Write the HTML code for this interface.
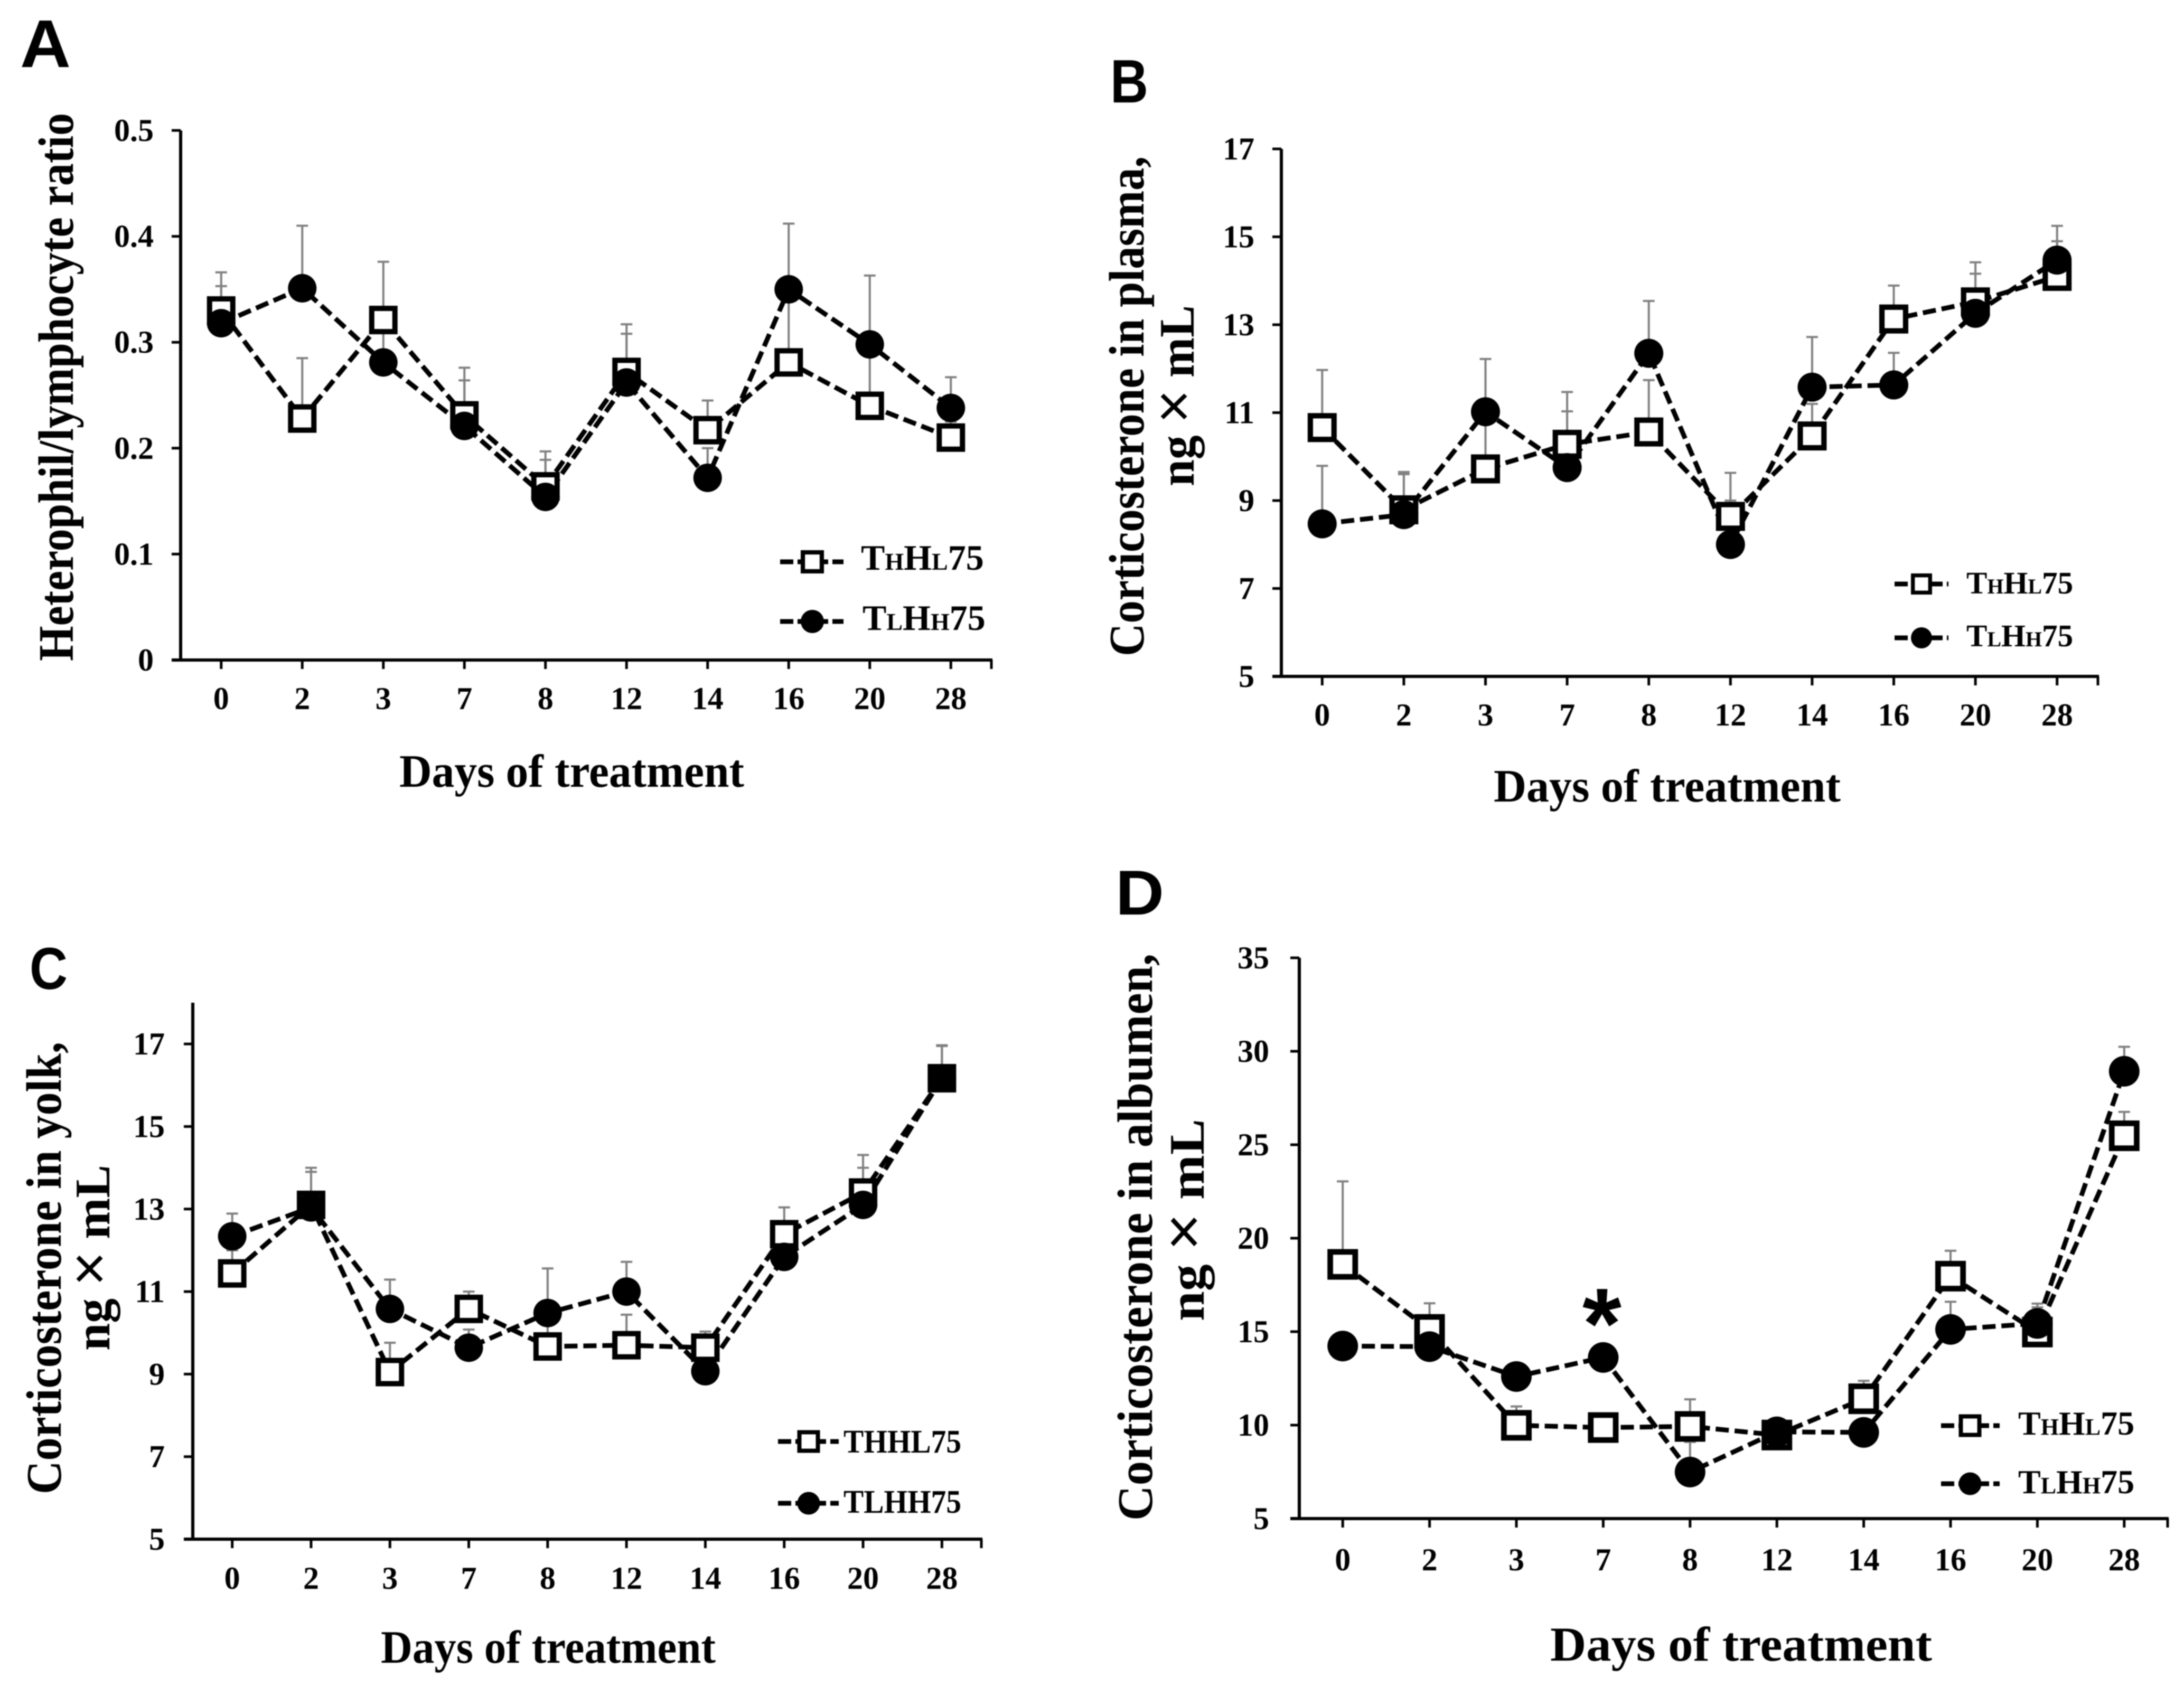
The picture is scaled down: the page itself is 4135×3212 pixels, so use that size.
<!DOCTYPE html>
<html lang="en">
<head>
<meta charset="utf-8">
<title>Corticosterone and heterophil/lymphocyte ratio over days of treatment</title>
<style>
html,body{margin:0;padding:0;background:#fff;}
#figure{display:block;width:4135px;height:3212px;filter:blur(1.1px);}
text{fill:#000;font-family:"Liberation Serif",serif;font-weight:bold;}
.letter{font-family:"Liberation Sans",sans-serif;}
.times{font-family:"Liberation Sans",sans-serif;font-weight:normal;font-size:112px;}
</style>
</head>
<body>
<svg id="figure" xmlns="http://www.w3.org/2000/svg" width="4135" height="3212" viewBox="0 0 4135 3212">
  <rect x="0" y="0" width="4135" height="3212" fill="#fff"/>

  <text class="letter" x="38" y="127" font-size="128" textLength="96" lengthAdjust="spacingAndGlyphs">A</text>
  <text class="letter" x="2102" y="194" font-size="116" textLength="72" lengthAdjust="spacingAndGlyphs">B</text>
  <text class="letter" x="56" y="1873" font-size="112" textLength="72" lengthAdjust="spacingAndGlyphs">C</text>
  <text class="letter" x="2112" y="1732" font-size="120" textLength="92" lengthAdjust="spacingAndGlyphs">D</text>

  <text transform="translate(138,1252) rotate(-90)" font-size="94" textLength="1038" lengthAdjust="spacingAndGlyphs">Heterophil/lymphocyte ratio</text>
  <text x="756" y="1490" font-size="88" textLength="653" lengthAdjust="spacingAndGlyphs">Days of treatment</text>

  <text transform="translate(2165,1243) rotate(-90)" font-size="94" textLength="947" lengthAdjust="spacingAndGlyphs">Corticosterone in plasma,</text>
  <text transform="translate(2260,921) rotate(-90)" font-size="94" textLength="343" lengthAdjust="spacingAndGlyphs">ng <tspan class="times">×</tspan> mL</text>
  <text x="2828" y="1518" font-size="88" textLength="657" lengthAdjust="spacingAndGlyphs">Days of treatment</text>

  <text transform="translate(115,2830) rotate(-90)" font-size="94" textLength="857" lengthAdjust="spacingAndGlyphs">Corticosterone in yolk,</text>
  <text transform="translate(207,2558) rotate(-90)" font-size="94" textLength="352" lengthAdjust="spacingAndGlyphs">ng <tspan class="times">×</tspan> mL</text>
  <text x="721" y="3149" font-size="88" textLength="634" lengthAdjust="spacingAndGlyphs">Days of treatment</text>

  <text transform="translate(2181,2880) rotate(-90)" font-size="94" textLength="1074" lengthAdjust="spacingAndGlyphs">Corticosterone in albumen,</text>
  <text transform="translate(2279,2502) rotate(-90)" font-size="94" textLength="383" lengthAdjust="spacingAndGlyphs">ng <tspan class="times">×</tspan>  mL</text>
  <text x="2935" y="3145" font-size="92" textLength="723" lengthAdjust="spacingAndGlyphs">Days of treatment</text>

  <text class="letter" x="3033" y="2572" font-size="190" text-anchor="middle">*</text>

  <g>
    <text x="1630" y="1079" font-size="68">T<tspan font-size="46">H</tspan>H<tspan font-size="46">L</tspan>75</text>
    <text x="1633" y="1193" font-size="68">T<tspan font-size="46">L</tspan>H<tspan font-size="46">H</tspan>75</text>
  </g>
  <g>
    <text x="3723" y="1124" font-size="59">T<tspan font-size="40">H</tspan>H<tspan font-size="40">L</tspan>75</text>
    <text x="3723" y="1224" font-size="59">T<tspan font-size="40">L</tspan>H<tspan font-size="40">H</tspan>75</text>
  </g>
  <g>
    <text x="1597" y="2751" font-size="62" textLength="223" lengthAdjust="spacingAndGlyphs">THHL75</text>
    <text x="1597" y="2865" font-size="62" textLength="223" lengthAdjust="spacingAndGlyphs">TLHH75</text>
  </g>
  <g>
    <text x="3821" y="2717" font-size="64">T<tspan font-size="44">H</tspan>H<tspan font-size="44">L</tspan>75</text>
    <text x="3821" y="2828" font-size="64">T<tspan font-size="44">L</tspan>H<tspan font-size="44">H</tspan>75</text>
  </g>
</svg>

<script>
// Shared categories
const days = ['0', '2', '3', '7', '8', '12', '14', '16', '20', '28'];

// Panel A: heterophil/lymphocyte ratio
const ticksA = [0, 0.1, 0.2, 0.3, 0.4, 0.5];
const thhlA = [0.33, 0.228, 0.321, 0.231, 0.164, 0.272, 0.217, 0.281, 0.24, 0.21];
const tlhhA = [0.318, 0.351, 0.281, 0.221, 0.154, 0.262, 0.172, 0.35, 0.298, 0.238];
const thhlUpperA = [0.353, 0.285, 0.376, 0.276, 0.189, 0.317, 0.245, 0.345, 0.3, 0.225];
const tlhhUpperA = [0.366, 0.41, 0.31, 0.264, 0.197, 0.308, 0.2, 0.412, 0.363, 0.267];

// Panel B: corticosterone in plasma
const ticksB = [5, 7, 9, 11, 13, 15, 17];
const thhlB = [10.66, 8.79, 9.72, 10.28, 10.56, 8.64, 10.47, 13.13, 13.52, 14.1];
const tlhhB = [8.47, 8.68, 11.02, 9.75, 12.35, 8.0, 11.58, 11.63, 13.26, 14.47];
const thhlUpperB = [11.97, 9.65, 10.8, 11.47, 11.74, 9.63, 11.2, 13.89, 14.42, 14.9];
const tlhhUpperB = [9.79, 9.6, 12.22, 11.03, 13.54, 9.0, 12.72, 12.36, 14.16, 15.25];

// Panel C: corticosterone in yolk
const ticksC = [5, 7, 9, 11, 13, 15, 17];
const thhlC = [11.44, 13.1, 9.05, 10.58, 9.67, 9.7, 9.64, 12.39, 13.4, 16.17];
const tlhhC = [12.34, 13.04, 10.58, 9.64, 10.48, 11.0, 9.07, 11.84, 13.1, 16.17];
const thhlUpperC = [12.0, 14.0, 9.76, 11.0, 10.2, 10.44, 10.03, 13.04, 14.31, 16.95];
const tlhhUpperC = [12.89, 13.9, 11.29, 10.08, 11.56, 11.72, 9.6, 12.5, 14.0, 16.97];

// Panel D: corticosterone in albumen
const ticksD = [5, 10, 15, 20, 25, 30, 35];
const thhlD = [18.6, 15.12, 9.99, 9.87, 9.93, 9.47, 11.41, 17.97, 14.98, 25.48];
const tlhhD = [14.23, 14.2, 12.6, 13.62, 7.49, 9.64, 9.61, 15.12, 15.44, 28.93];
const thhlUpperD = [23.04, 16.52, 11.0, 10.2, 11.38, 10.0, 12.37, 19.33, 16.5, 26.76];
const tlhhUpperD = [14.6, 14.8, 13.0, 14.0, 9.1, 10.0, 10.0, 16.6, 16.3, 30.24];

const svg = document.getElementById('figure');
const NS = 'http://www.w3.org/2000/svg';

function mk(tag, attrs, parent) {
  const node = document.createElementNS(NS, tag);
  for (const key in attrs) node.setAttribute(key, attrs[key]);
  parent.appendChild(node);
  return node;
}

function drawMarkerSquare(parent, cx, cy, size, name) {
  const sw = size * 0.185;
  const box = mk('rect', {x: cx - size / 2 + sw / 2, y: cy - size / 2 + sw / 2, width: size - sw, height: size - sw, fill: '#fff', stroke: '#000', 'stroke-width': sw}, parent);
  
  
}

function drawMarkerCircle(parent, cx, cy, size, name) {
  const dot = mk('circle', {cx: cx, cy: cy, r: size / 2, fill: '#000'}, parent);
  
  
}

function drawSeries(parent, p, values, xOf, yOf, key) {
  const pts = values.map((v, i) => xOf(i) + ',' + yOf(v)).join(' ');
  const line = mk('polyline', {points: pts, fill: 'none', stroke: '#000', 'stroke-width': 9, 'stroke-dasharray': '25 11'}, parent);
  
  
}

function drawErrors(parent, p, values, uppers, xOf, yOf, key) {
  values.forEach((v, i) => {
    const x = xOf(i);
    const bar = mk('path', {d: 'M' + x + ' ' + yOf(v) + 'V' + yOf(uppers[i]) + 'M' + (x - 11) + ' ' + yOf(uppers[i]) + 'H' + (x + 11), fill: 'none', stroke: '#808080', 'stroke-width': 4}, parent);
    
    
  });
}

function drawPanel(p) {
  const g = mk('g', {}, svg);
  
  

  const step = (p.right - p.left) / days.length;
  const xOf = i => p.left + step * (i + 0.5);
  const yOf = v => p.bottom - (v - p.min) / (p.max - p.min) * (p.bottom - p.top);

  const yAxis = mk('line', {x1: p.left, x2: p.left, y1: p.top, y2: p.bottom + 3, stroke: '#000', 'stroke-width': 6}, g);
  
  

  const xAxis = mk('line', {x1: p.left - 17, x2: p.right + 2, y1: p.bottom, y2: p.bottom, stroke: '#000', 'stroke-width': 6}, g);
  
  

  p.ticks.forEach(t => {
    const y = yOf(t);
    const tick = mk('line', {x1: p.left - 17, x2: p.left, y1: y, y2: y, stroke: '#000', 'stroke-width': 5}, g);
    
    
    const label = mk('text', {x: p.yLabelX, y: y + 20, 'font-size': 60, 'text-anchor': 'end'}, g);
    
    
    label.textContent = String(t);
  });

  days.forEach((d, i) => {
    const x = xOf(i);
    const tick = mk('line', {x1: x, x2: x, y1: p.bottom, y2: p.bottom + 17, stroke: '#000', 'stroke-width': 5}, g);
    
    
    const label = mk('text', {x: x, y: p.xLabelY, 'font-size': 60, 'text-anchor': 'middle'}, g);
    
    
    label.textContent = d;
  });

  const endTick = mk('line', {x1: p.right, x2: p.right, y1: p.bottom, y2: p.bottom + 17, stroke: '#000', 'stroke-width': 5}, g);
  
  

  drawErrors(g, p, p.thhl, p.thhlUpper, xOf, yOf, 'thhl75');
  drawErrors(g, p, p.tlhh, p.tlhhUpper, xOf, yOf, 'tlhh75');
  drawSeries(g, p, p.thhl, xOf, yOf, 'thhl75');
  drawSeries(g, p, p.tlhh, xOf, yOf, 'tlhh75');
  p.thhl.forEach((v, i) => drawMarkerSquare(g, xOf(i), yOf(v), p.marker, 'thhl75-point-' + p.id + '-day-' + days[i]));
  p.tlhh.forEach((v, i) => drawMarkerCircle(g, xOf(i), yOf(v), p.marker, 'tlhh75-point-' + p.id + '-day-' + days[i]));

  const lg = p.legend;
  [[lg.y1, 'thhl75'], [lg.y2, 'tlhh75']].forEach(([y, key]) => {
    const dash = mk('line', {x1: lg.x1, x2: lg.x2, y1: y, y2: y, stroke: '#000', 'stroke-width': 9, 'stroke-dasharray': '25 8'}, g);
    
    
    if (key === 'thhl75') drawMarkerSquare(g, lg.cx, y, lg.size, 'legend-marker-' + key + '-' + p.id);
    else drawMarkerCircle(g, lg.cx, y, lg.size, 'legend-marker-' + key + '-' + p.id);
  });
}

drawPanel({id: 'a', left: 342, right: 1877, top: 247, bottom: 1250, min: 0, max: 0.5, ticks: ticksA,
  thhl: thhlA, tlhh: tlhhA, thhlUpper: thhlUpperA, tlhhUpper: tlhhUpperA, xLabelY: 1343, yLabelX: 291, marker: 54,
  legend: {x1: 1477, x2: 1597, cx: 1538, y1: 1064, y2: 1177, size: 44}});
drawPanel({id: 'b', left: 2426, right: 3972, top: 282, bottom: 1281, min: 5, max: 17, ticks: ticksB,
  thhl: thhlB, tlhh: tlhhB, thhlUpper: thhlUpperB, tlhhUpper: tlhhUpperB, xLabelY: 1374, yLabelX: 2375, marker: 55,
  legend: {x1: 3587, x2: 3689, cx: 3638, y1: 1106, y2: 1208, size: 40}});
drawPanel({id: 'c', left: 365, right: 1858, top: 1899, bottom: 2915, min: 5, max: 18, ticks: ticksC,
  thhl: thhlC, tlhh: tlhhC, thhlUpper: thhlUpperC, tlhhUpper: tlhhUpperC, xLabelY: 3009, yLabelX: 312, marker: 54,
  legend: {x1: 1473, x2: 1588, cx: 1531, y1: 2730, y2: 2847, size: 43}});
drawPanel({id: 'd', left: 2460, right: 4104, top: 1814, bottom: 2876, min: 5, max: 35, ticks: ticksD,
  thhl: thhlD, tlhh: tlhhD, thhlUpper: thhlUpperD, tlhhUpper: tlhhUpperD, xLabelY: 2974, yLabelX: 2403, marker: 58,
  legend: {x1: 3675, x2: 3786, cx: 3730, y1: 2700, y2: 2810, size: 43}});
</script>
</body>
</html>
